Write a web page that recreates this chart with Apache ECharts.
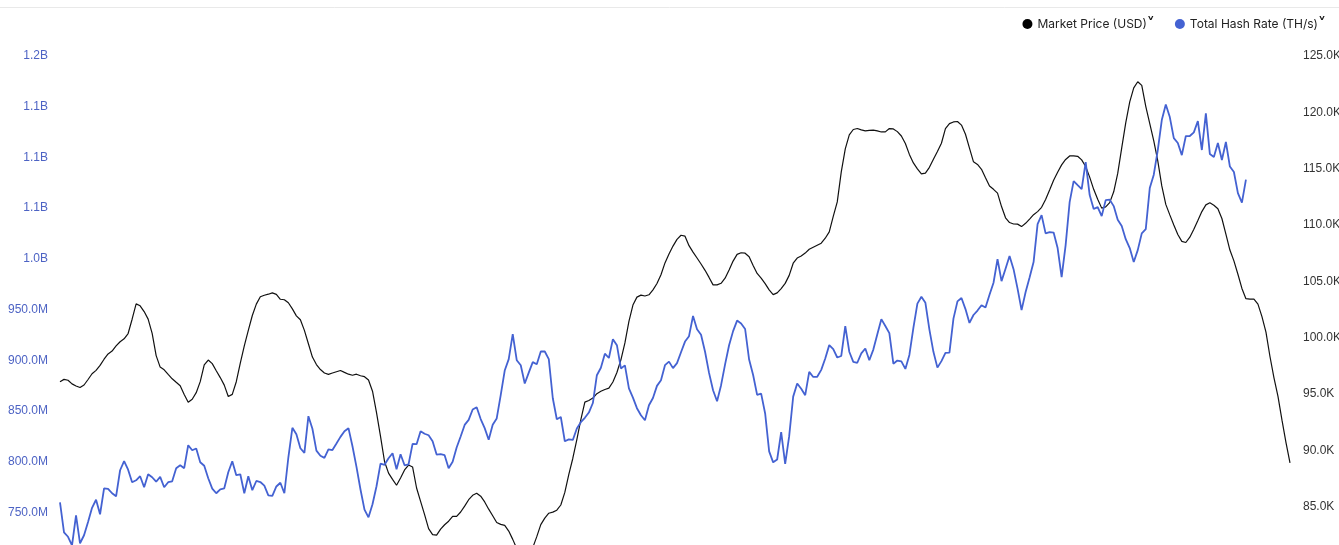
<!DOCTYPE html>
<html>
<head>
<meta charset="utf-8">
<script src="https://cdn.jsdelivr.net/npm/echarts@6/dist/echarts.min.js"></script>
<style>
  html, body { margin: 0; padding: 0; background: #fff; }
  #wrap { width: 1339px; height: 545px; overflow: hidden; position: relative; }
  #chart { width: 1339px; height: 600px; }
</style>
</head>
<body>
<div id="wrap"><div id="chart"></div></div>
<script>
// Market price, thousands of USD (daily)
const priceK = [
  95.91, 96.12, 96.04, 95.72, 95.53, 95.40, 95.62, 96.11, 96.62, 96.92,
  97.36, 97.91, 98.38, 98.63, 99.09, 99.46, 99.72, 100.19, 101.46, 102.82,
  102.65, 102.14, 101.47, 100.21, 98.23, 97.21, 96.97, 96.56, 96.17, 95.86,
  95.56, 94.78, 94.09, 94.36, 94.94, 95.92, 97.40, 97.84, 97.52, 96.89,
  96.28, 95.61, 94.60, 94.79, 95.91, 97.57, 99.10, 100.47, 101.79, 102.80,
  103.45, 103.59, 103.68, 103.80, 103.67, 103.23, 103.19, 102.92, 102.38, 101.76,
  101.41, 100.47, 99.28, 98.10, 97.44, 96.99, 96.69, 96.57, 96.69, 96.80,
  96.91, 96.74, 96.58, 96.49, 96.58, 96.44, 96.36, 96.06, 95.07, 93.17,
  91.06, 88.83, 87.80, 87.25, 86.72, 87.37, 88.08, 88.52, 88.35, 86.48,
  85.29, 84.11, 82.87, 82.34, 82.30, 82.83, 83.22, 83.53, 83.96, 83.96,
  84.35, 84.87, 85.44, 85.83, 86.01, 85.75, 85.24, 84.60, 84.02, 83.42,
  83.25, 83.16, 82.66, 81.92, 81.10, 80.12, 79.59, 80.30, 81.19, 82.16,
  83.23, 83.81, 84.24, 84.34, 84.51, 84.97, 86.09, 87.68, 89.12, 90.77,
  92.54, 94.10, 94.24, 94.46, 94.85, 95.06, 95.22, 95.34, 95.89, 96.73,
  97.86, 99.36, 101.27, 102.72, 103.42, 103.60, 103.52, 103.63, 104.07, 104.63,
  105.41, 106.46, 107.25, 107.95, 108.55, 108.91, 108.83, 107.99, 107.42, 106.89,
  106.36, 105.80, 105.17, 104.51, 104.51, 104.65, 105.10, 105.82, 106.62, 107.22,
  107.36, 107.32, 107.01, 106.23, 105.52, 105.11, 104.62, 104.07, 103.64, 103.80,
  104.18, 104.64, 105.35, 106.43, 106.89, 107.07, 107.33, 107.67, 107.85, 108.03,
  108.21, 108.65, 109.21, 110.59, 111.87, 114.54, 116.58, 117.82, 118.30, 118.39,
  118.26, 118.17, 118.22, 118.24, 118.17, 118.08, 118.09, 118.38, 118.35, 118.11,
  117.72, 117.05, 116.09, 115.33, 114.80, 114.36, 114.42, 114.94, 115.66, 116.35,
  117.08, 118.38, 118.82, 118.97, 119.01, 118.69, 117.88, 116.65, 115.43, 115.20,
  114.77, 114.02, 113.28, 112.99, 112.65, 111.46, 110.46, 110.04, 109.91, 109.90,
  109.68, 109.97, 110.35, 110.74, 111.01, 111.39, 112.09, 112.92, 113.79, 114.51,
  115.16, 115.64, 115.95, 115.95, 115.92, 115.60, 115.01, 114.07, 112.99, 112.11,
  111.32, 111.43, 111.81, 112.77, 114.40, 116.66, 118.88, 120.75, 121.99, 122.54,
  122.21, 120.36, 118.82, 117.28, 115.51, 113.29, 111.65, 110.72, 109.83, 108.98,
  108.37, 108.27, 108.74, 109.45, 110.22, 111.01, 111.61, 111.79, 111.58, 111.27,
  110.40, 109.02, 107.60, 106.64, 105.45, 104.19, 103.28, 103.24, 103.25, 102.80,
  101.69, 100.32, 98.15, 96.26, 94.61, 92.50, 90.50, 88.70
];

// Total hash rate, millions of TH/s (daily)
const hashRateM = [
  757.9, 728.3, 723.9, 715.5, 745.1, 717.5, 725.4, 738.5, 752.4, 760.4,
  746.1, 771.7, 771.2, 766.8, 763.8, 789.5, 798.4, 790.0, 777.7, 779.6,
  783.6, 772.7, 785.5, 782.6, 778.2, 782.9, 772.7, 777.7, 778.6, 791.5,
  794.4, 791.5, 814.2, 809.2, 810.9, 797.4, 793.9, 781.6, 771.4, 766.8,
  770.7, 771.7, 787.5, 798.4, 784.6, 785.5, 766.8, 783.6, 769.8, 778.9,
  777.9, 774.3, 764.8, 764.3, 773.5, 777.2, 766.8, 802.3, 831.4, 825.0,
  811.2, 806.6, 842.8, 830.4, 808.9, 803.8, 801.7, 810.2, 809.4, 815.8,
  822.4, 828.0, 831.0, 813.2, 792.9, 770.5, 750.7, 743.1, 755.9, 773.7,
  796.1, 794.9, 801.3, 806.3, 790.5, 805.3, 794.4, 795.4, 815.5, 815.2,
  828.0, 825.5, 824.0, 818.1, 805.0, 805.3, 804.3, 791.5, 797.8, 811.9,
  822.8, 834.2, 839.2, 849.4, 851.7, 840.0, 831.0, 819.5, 834.3, 840.6,
  863.5, 887.8, 899.1, 923.7, 898.0, 893.1, 875.0, 885.8, 896.1, 894.1,
  906.7, 906.6, 899.1, 860.5, 839.8, 842.0, 818.1, 819.9, 819.4, 830.7,
  836.9, 841.2, 846.4, 855.8, 883.2, 890.6, 904.4, 900.2, 918.8, 912.8,
  889.9, 892.9, 870.2, 861.1, 850.7, 843.8, 838.8, 853.6, 860.8, 872.7,
  878.3, 893.1, 896.6, 890.2, 895.1, 905.9, 916.4, 921.7, 941.6, 928.6,
  923.2, 906.4, 885.5, 868.4, 857.6, 873.4, 893.9, 912.8, 926.7, 937.1,
  934.3, 928.8, 898.7, 883.4, 863.9, 865.0, 845.5, 808.1, 797.3, 800.1,
  827.0, 795.7, 823.1, 862.1, 875.1, 869.9, 863.5, 886.5, 881.5, 881.7,
  888.5, 899.7, 912.9, 908.9, 900.7, 902.2, 931.6, 906.4, 896.4, 895.5,
  904.7, 909.6, 898.0, 908.5, 923.6, 938.5, 931.8, 924.7, 894.6, 897.7,
  896.8, 889.4, 903.2, 929.9, 953.8, 960.6, 954.6, 928.2, 906.3, 890.7,
  897.1, 905.3, 905.4, 939.0, 956.0, 959.4, 948.4, 934.8, 942.6, 947.0,
  952.3, 949.9, 962.5, 974.4, 997.7, 976.0, 988.3, 1000.7, 987.8, 968.6,
  947.4, 965.1, 979.5, 994.8, 1032.3, 1041.1, 1023.1, 1024.4, 1023.9, 1008.6,
  979.9, 1011.5, 1054.0, 1074.7, 1070.7, 1066.8, 1093.4, 1060.9, 1047.1, 1049.0,
  1040.1, 1055.9, 1056.4, 1050.0, 1036.5, 1030.3, 1017.4, 1008.6, 994.8, 1006.6,
  1023.1, 1027.3, 1067.8, 1081.0, 1105.3, 1134.9, 1150.2, 1137.8, 1117.1, 1112.2,
  1100.3, 1119.1, 1119.1, 1122.7, 1133.9, 1105.3, 1141.5, 1101.3, 1098.4, 1112.2,
  1095.4, 1113.2, 1089.0, 1083.6, 1062.8, 1053.5, 1076.2
];

// Left axis ticks (millions TH/s) and right axis ticks (thousands USD)
const hashAxis = { min: 700, max: 1200, interval: 50 };
const priceAxis = { min: 80, max: 125, interval: 5 };

const seriesNames = ['Market Price (USD)', 'Total Hash Rate (TH/s)'];

const startDate = new Date(Date.UTC(2025, 0, 1));
const categories = priceK.map((_, i) => {
  const d = new Date(startDate.getTime() + i * 86400000);
  return d.toISOString().slice(0, 10);
});

const BLUE = '#4462d2';
const chart = echarts.init(document.getElementById('chart'), null, { renderer: 'canvas' });

chart.setOption({
  animation: false,
  backgroundColor: '#ffffff',
  graphic: [{
    type: 'line',
    shape: { x1: 0, y1: 7.5, x2: 1339, y2: 7.5 },
    style: { stroke: '#e9e9e9', lineWidth: 1 }
  }],
  legend: {
    right: 8,
    top: 12,
    icon: 'circle',
    itemWidth: 10,
    itemHeight: 10,
    itemGap: 20,
    data: seriesNames,
    formatter: name => '{t|' + name + '}{c|˅}',
    textStyle: {
      rich: {
        t: { fontFamily: 'Inter, "Noto Sans", sans-serif', fontSize: 12, color: '#222' },
        c: { fontFamily: '"DejaVu Sans", sans-serif', fontSize: 16, fontWeight: 'bold', color: '#111', padding: [2, 0, 0, 0] }
      }
    }
  },
  grid: { left: 60, right: 49, top: 54, bottom: 39, containLabel: false, outerBoundsMode: 'none' },
  xAxis: {
    type: 'category',
    data: categories,
    boundaryGap: false,
    show: false
  },
  yAxis: [
    {
      type: 'value',
      position: 'left',
      min: hashAxis.min,
      max: hashAxis.max,
      interval: hashAxis.interval,
      splitLine: { show: false },
      axisLine: { show: false },
      axisTick: { show: false },
      axisLabel: {
        margin: 12,
        color: '#4d63c4',
        fontFamily: 'Arial, "Liberation Sans", sans-serif',
        fontSize: 12,
        verticalAlign: 'top',
        lineHeight: 4,
        formatter: v => v >= 1000 ? (v / 1000).toFixed(1) + 'B' : v.toFixed(1) + 'M'
      }
    },
    {
      type: 'value',
      position: 'right',
      min: priceAxis.min,
      max: priceAxis.max,
      interval: priceAxis.interval,
      splitLine: { show: false },
      axisLine: { show: false },
      axisTick: { show: false },
      axisLabel: {
        margin: 13,
        color: '#333',
        fontFamily: 'Arial, "Liberation Sans", sans-serif',
        fontSize: 12,
        verticalAlign: 'top',
        lineHeight: 4,
        formatter: v => v.toFixed(1) + 'K'
      }
    }
  ],
  series: [
    {
      name: seriesNames[0],
      type: 'line',
      yAxisIndex: 1,
      data: priceK,
      showSymbol: false,
      symbol: 'none',
      color: '#000',
      lineStyle: { color: '#111', width: 1.2 },
      z: 2
    },
    {
      name: seriesNames[1],
      type: 'line',
      yAxisIndex: 0,
      data: hashRateM,
      showSymbol: false,
      symbol: 'none',
      color: BLUE,
      lineStyle: { color: BLUE, width: 1.8 },
      z: 3
    }
  ]
});
</script>
</body>
</html>
